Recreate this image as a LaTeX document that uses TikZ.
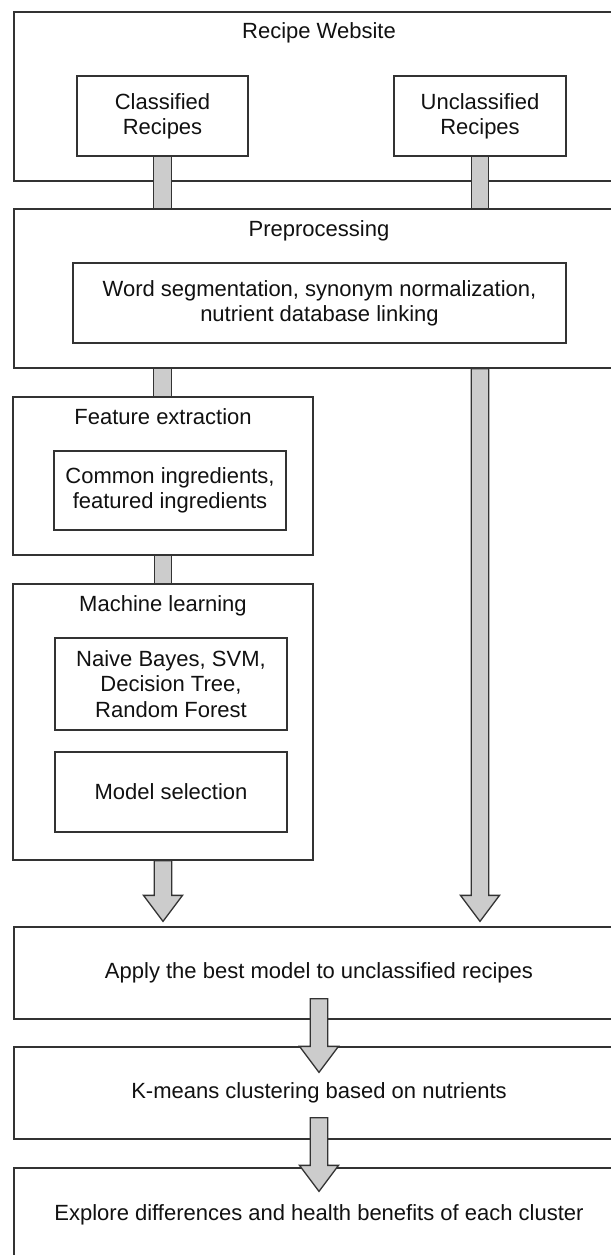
\documentclass[tikz,border=0pt]{standalone}
\usepackage{fontspec}
\setmainfont{Liberation Sans}
\usetikzlibrary{calc}
\definecolor{linegray}{HTML}{333333}
\definecolor{fillgray}{HTML}{CCCCCC}
\definecolor{txt}{HTML}{111111}
\tikzset{
  box/.style={draw=linegray, line width=0.65pt, rectangle, inner sep=0pt, fill=white,
    align=center, text=txt, font=\fontsize{11}{12.6}\selectfont},
  title/.style={inner sep=0pt, text=txt, font=\fontsize{11}{12.6}\selectfont},
  fat/.style={draw=linegray, fill=fillgray, line width=0.65pt, line join=miter}
}
\newcommand\fatbar[2]{%
  \draw[fat] let \p1=#1, \p2=#2 in (\x1-4.4pt,\y1) rectangle (\x1+4.4pt,\y2);}
\newcommand\fatarrow[2]{%
  \draw[fat] let \p1=#1, \p2=#2 in
    (\x1-4.4pt,\y1) -- (\x1+4.4pt,\y1) -- (\x1+4.4pt,\y2+13pt) -- (\x1+9.75pt,\y2+13pt)
    -- (\x1,\y2) -- (\x1-9.75pt,\y2+13pt) -- (\x1-4.4pt,\y2+13pt) -- cycle;}
\begin{document}
\begin{tikzpicture}[x=0.5pt,y=-0.5pt]
\useasboundingbox (0,0) rectangle (611,1255);
\clip (0,0) rectangle (611,1255);
\fill[white] (0,0) rectangle (611,1255);
% outer boxes
\node[box, minimum width=305pt, minimum height=84.5pt] (web) at (319,96.5) {};
\node[title] (webt) at (319,33) {Recipe Website};
\node[box, minimum width=305pt, minimum height=79.5pt] (pre) at (319,288.5) {};
\node[title] (pret) at (319,231) {Preprocessing};
\node[box, minimum width=150pt, minimum height=79pt] (feat) at (163,476) {};
\node[title] (featt) at (163,417) {Feature extraction};
\node[box, minimum width=150pt, minimum height=138pt] (ml) at (163,722) {};
\node[title] (mlt) at (163,606) {Machine learning};
\node[box, minimum width=305pt, minimum height=46pt] (apply) at (319,973) {Apply the best model to unclassified recipes};
\node[box, minimum width=305pt, minimum height=46pt] (kmeans) at (319,1093) {K-means clustering based on nutrients};
\node[box, minimum width=305pt, minimum height=47pt] (explore) at (319,1215) {Explore differences and health benefits of each cluster};
% inner boxes
\node[box, minimum width=85.5pt, minimum height=40pt] (cls) at (162.5,116) {Classified\\Recipes};
\node[box, minimum width=86pt, minimum height=40pt] (uncls) at (480,116) {Unclassified\\Recipes};
\node[box, minimum width=246.5pt, minimum height=40pt] (seg) at (319.5,303) {Word segmentation, synonym normalization,\\nutrient database linking};
\node[box, minimum width=116pt, minimum height=39.5pt] (common) at (170,490.5) {Common ingredients,\\featured ingredients};
\node[box, minimum width=116pt, minimum height=46pt] (nb) at (171,684) {Naive Bayes, SVM,\\Decision Tree,\\Random Forest};
\node[box, minimum width=116pt, minimum height=40pt] (msel) at (171,792) {Model selection};
% connectors
\fatbar{(cls.south)}{(pre.north)}
\fatbar{(uncls.south)}{(pre.north)}
\fatbar{(pre.south -| cls.south)}{(feat.north)}
\fatbar{(feat.south)}{(ml.north)}
\fatarrow{(ml.south)}{($(apply.north)+(0,-5)$)}
\fatarrow{(pre.south -| uncls.south)}{($(apply.north)+(0,-5)$)}
\fatarrow{($(apply.south)+(0,-21)$)}{($(kmeans.north)+(0,26)$)}
\fatarrow{($(kmeans.south)+(0,-22)$)}{($(explore.north)+(0,24)$)}
\end{tikzpicture}
\end{document}
